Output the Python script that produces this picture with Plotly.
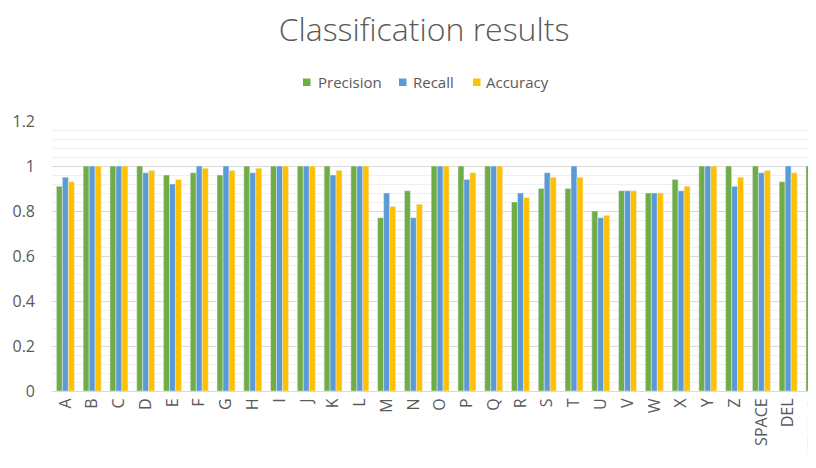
import plotly.graph_objects as go

categories = ["A", "B", "C", "D", "E", "F", "G", "H", "I", "J", "K", "L", "M", "N",
              "O", "P", "Q", "R", "S", "T", "U", "V", "W", "X", "Y", "Z",
              "SPACE", "DEL", "NOTHING"]
precision = [0.91, 1.00, 1.00, 1.00, 0.96, 0.97, 0.96, 1.00, 1.00, 1.00, 1.00, 1.00, 0.77, 0.89,
             1.00, 1.00, 1.00, 0.84, 0.90, 0.90, 0.80, 0.89, 0.88, 0.94, 1.00, 1.00,
             1.00, 0.93, 1.00]
recall = [0.95, 1.00, 1.00, 0.97, 0.92, 1.00, 1.00, 0.97, 1.00, 1.00, 0.96, 1.00, 0.88, 0.77,
          1.00, 0.94, 1.00, 0.88, 0.97, 1.00, 0.77, 0.89, 0.88, 0.89, 1.00, 0.91,
          0.97, 1.00, 1.00]
accuracy = [0.93, 1.00, 1.00, 0.98, 0.94, 0.99, 0.98, 0.99, 1.00, 1.00, 0.98, 1.00, 0.82, 0.83,
            1.00, 0.97, 1.00, 0.86, 0.95, 0.95, 0.78, 0.89, 0.88, 0.91, 1.00, 0.95,
            0.98, 0.97, 1.00]
series_names = ["Precision", "Recall", "Accuracy"]
series_colors = ["#70AD47", "#5B9BD5", "#FFC000"]
y_ticks = [0, 0.2, 0.4, 0.6, 0.8, 1.0, 1.2]
y_tick_labels = ["0", "0.2", "0.4", "0.6", "0.8", "1", "1.2"]

FONT = "Open Sans"
GRAY = "#595959"

# figure geometry (the page body adds an 8px offset)
W, H = 808, 460
ML, MR, MT, MB = 44, 0, 113, 77
PW, PH = W - ML - MR, H - MT - MB


def px_x(page_x):
    return (page_x - 8 - ML) / PW


def px_y(page_y):
    return (H - MB - (page_y - 8)) / PH


fig = go.Figure()
for name, vals, col in zip(series_names, [precision, recall, accuracy], series_colors):
    fig.add_trace(go.Bar(name=name, x=categories, y=vals, marker_color=col,
                         showlegend=False))

# manual legend (small squares + labels, as in the reference)
legend_sq_x = [303, 399, 473]
legend_txt_x = [316, 411, 484]
shapes = []
annotations = []
for name, col, sx, tx in zip(series_names, series_colors, legend_sq_x, legend_txt_x):
    shapes.append(dict(type="rect", xref="paper", yref="paper",
                       x0=px_x(sx), x1=px_x(sx + 7.5), y0=px_y(86), y1=px_y(78.5),
                       fillcolor=col, line=dict(width=0), layer="above"))
    annotations.append(dict(text=name, xref="paper", yref="paper", x=px_x(tx), y=px_y(82),
                            xanchor="left", yanchor="middle", showarrow=False,
                            font=dict(family=FONT, size=15, color=GRAY)))

fig.update_layout(
    width=W, height=H,
    paper_bgcolor="white", plot_bgcolor="white",
    barmode="group", bargap=0.33, bargroupgap=0,
    margin=dict(l=ML, r=MR, t=MT, b=MB, autoexpand=False),
    font=dict(family=FONT, color=GRAY, size=13),
    title=dict(text="Classification results", x=(424 - 8) / W, xref="container",
               xanchor="center", y=1 - (30 - 8) / H, yref="container", yanchor="middle",
               font=dict(family=FONT, size=32, color=GRAY, weight=300)),
    shapes=shapes,
    annotations=annotations,
    showlegend=False,
)
fig.update_xaxes(
    type="category", range=[-0.5, 28.04], tickangle=-90, automargin=False,
    showgrid=False, showline=True, linecolor="#D9D9D9", linewidth=1,
    ticks="", tickfont=dict(family=FONT, size=16, color=GRAY),
)
fig.update_yaxes(
    range=[0, 1.2], tickvals=y_ticks, ticktext=y_tick_labels, automargin=False,
    showgrid=True, gridcolor="#D9D9D9", gridwidth=1,
    minor=dict(dtick=0.04, showgrid=True, gridcolor="#EFEFEF", gridwidth=1),
    zeroline=False, showline=False, ticks="", ticklabelstandoff=16,
    tickfont=dict(family=FONT, size=16, color=GRAY),
)

fig.write_html("out.html")
